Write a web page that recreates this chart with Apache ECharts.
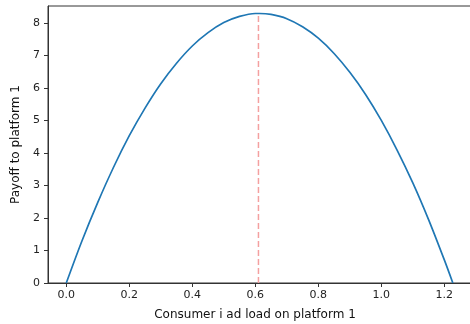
<!DOCTYPE html>
<html>
<head>
<meta charset="utf-8">
<script src="https://cdn.jsdelivr.net/npm/echarts@6/dist/echarts.min.js"></script>
<style>
html,body{margin:0;padding:0;background:#fff;overflow:hidden;}
#c{width:470px;height:324px;}
</style>
</head>
<body>
<div id="c"></div>
<script>
// Data
const adLoad = [0, 0.05, 0.10, 0.15, 0.20, 0.25, 0.30, 0.35, 0.40, 0.45, 0.50, 0.55, 0.60, 0.6135, 0.65, 0.70, 0.75, 0.80, 0.85, 0.90, 0.95, 1.00, 1.05, 1.10, 1.15, 1.20, 1.227];
const payoff = [0, 1.30, 2.48, 3.56, 4.53, 5.38, 6.13, 6.76, 7.29, 7.70, 8.01, 8.20, 8.29, 8.29, 8.26, 8.13, 7.88, 7.53, 7.06, 6.48, 5.80, 5.00, 4.09, 3.08, 1.95, 0.71, 0];
const optimumX = [0.61, 0.61];
const optimumY = [0, 8.29];
const xTicks = [0, 0.2, 0.4, 0.6, 0.8, 1.0, 1.2];
const yTicks = [0, 1, 2, 3, 4, 5, 6, 7, 8];

const chart = echarts.init(document.getElementById('c'), null, {renderer: 'canvas'});
const font = 'DejaVu Sans';
chart.setOption({
  animation: false,
  backgroundColor: '#fff',
  grid: {left: 48, top: 6, width: 425, bottom: 41, containLabel: false, outerBoundsMode: 'none',
    show: true, borderColor: '#333', borderWidth: 1, backgroundColor: 'transparent'},
  xAxis: {
    type: 'value', min: -0.058, max: 1.291,
    name: 'Consumer i ad load on platform 1', nameLocation: 'middle', nameGap: 26,
    nameTextStyle: {fontFamily: font, fontSize: 12, color: '#111', padding: [0, 11, 0, 0]},
    axisLine: {show: true, onZero: false, lineStyle: {color: '#333', width: 1}},
    axisTick: {show: true, length: 4, inside: false, customValues: xTicks, lineStyle: {color: '#333'}},
    axisLabel: {customValues: xTicks, fontFamily: font, fontSize: 11, color: '#222', margin: 7,
      formatter: v => Number(v).toFixed(1)},
    splitLine: {show: false}
  },
  yAxis: {
    type: 'value', min: 0, max: 8.52,
    name: 'Payoff to platform 1', nameLocation: 'middle', nameGap: 26,
    nameTextStyle: {fontFamily: font, fontSize: 12, color: '#111'},
    axisLine: {show: true, onZero: false, lineStyle: {color: '#333', width: 1}},
    axisTick: {show: true, length: 4, inside: false, customValues: yTicks, lineStyle: {color: '#333'}},
    axisLabel: {customValues: yTicks, fontFamily: font, fontSize: 11, color: '#222', margin: 8,
      formatter: v => String(Math.round(v))},
    splitLine: {show: false}
  },
  series: [
    {
      type: 'line', data: optimumX.map((x, i) => [x, optimumY[i]]),
      symbol: 'none', lineStyle: {color: '#f4a0a0', width: 1.5, type: [6, 3]}, z: 2
    },
    {
      type: 'line', data: adLoad.map((x, i) => [x, payoff[i]]),
      symbol: 'none', smooth: 0.3, lineStyle: {color: '#1f77b4', width: 1.7}, z: 3
    }
  ]
});
</script>
</body>
</html>
